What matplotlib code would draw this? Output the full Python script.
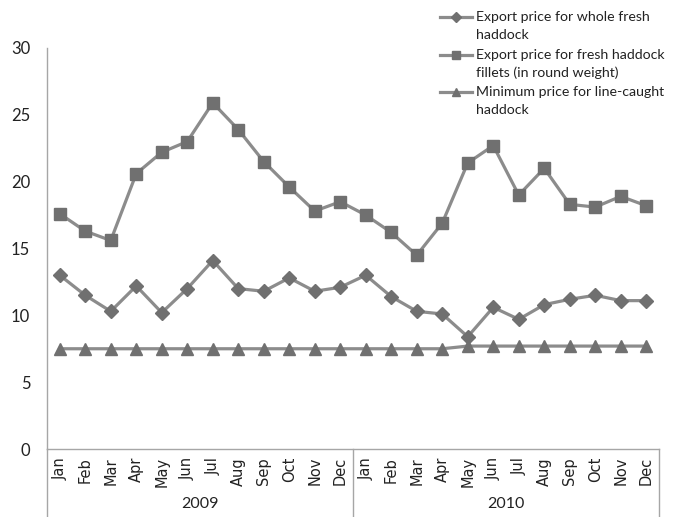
import matplotlib
matplotlib.use("Agg")
import matplotlib.pyplot as plt
import matplotlib.transforms as mtransforms
from matplotlib.lines import Line2D

months = ["Jan", "Feb", "Mar", "Apr", "May", "Jun", "Jul", "Aug", "Sep", "Oct", "Nov", "Dec"]
years = ["2009", "2010"]

whole_fresh = [13.0, 11.5, 10.3, 12.2, 10.2, 12.0, 14.1, 12.0, 11.8, 12.8, 11.8, 12.1,
               13.0, 11.4, 10.3, 10.1, 8.4, 10.6, 9.7, 10.8, 11.2, 11.5, 11.1, 11.1]
fillets = [17.6, 16.3, 15.6, 20.6, 22.2, 23.0, 25.9, 23.9, 21.5, 19.6, 17.8, 18.5,
           17.5, 16.2, 14.5, 16.9, 21.4, 22.7, 19.0, 21.0, 18.3, 18.1, 18.9, 18.2]
line_caught = [7.5, 7.5, 7.5, 7.5, 7.5, 7.5, 7.5, 7.5, 7.5, 7.5, 7.5, 7.5,
               7.5, 7.5, 7.5, 7.5, 7.7, 7.7, 7.7, 7.7, 7.7, 7.7, 7.7, 7.7]

labels = [["Export price for whole fresh", "haddock"],
          ["Export price for fresh haddock", "fillets (in round weight)"],
          ["Minimum price for line-caught", "haddock"]]

line_col = "#8c8c8c"
mark_col = "#707070"
axis_col = "#a6a6a6"
txt_font = ["Lato", "DejaVu Sans"]

W, H = 683, 517
fig = plt.figure(figsize=(W / 100, H / 100), dpi=100)
ax = fig.add_axes([47 / W, 1 - 449 / H, 612 / W, 401 / H])

x = list(range(len(whole_fresh)))
series = [(whole_fresh, "D", 7), (fillets, "s", 8), (line_caught, "^", 8.5)]
for vals, mk, ms in series:
    ax.plot(x, vals, color=line_col, lw=2.3, marker=mk, markersize=ms,
            markerfacecolor=mark_col, markeredgecolor=mark_col, zorder=3)

ax.set_xlim(-0.5, len(x) - 0.5)
ax.set_ylim(0, 30)
ax.set_yticks(range(0, 31, 5))
ax.set_yticklabels([str(v) for v in range(0, 31, 5)], fontsize=12,
                   family=txt_font, color="#222222")
ax.tick_params(axis="y", length=0, pad=12)
ax.set_xticks([])
for s in ["top", "right"]:
    ax.spines[s].set_visible(False)
for s in ["left", "bottom"]:
    ax.spines[s].set_color(axis_col)
    ax.spines[s].set_linewidth(1.0)

# month and year labels below the axis
trans = mtransforms.blended_transform_factory(ax.transData, fig.transFigure)
for i in x:
    ax.text(i, 1 - 457 / H, months[i % 12], transform=trans, rotation=90,
            ha="center", va="top", fontsize=10.5, color="#222222",
            family="DejaVu Sans")
for k, yr in enumerate(years):
    ax.text(k * 12 + 5.5, 1 - 504 / H, yr, transform=trans, ha="center",
            va="center", fontsize=11.5, family=txt_font, color="#222222")
for xv in [-0.5, 11.5, 23.5]:
    ax.plot([xv, xv], [1 - 449 / H, 0], transform=trans, color=axis_col,
            lw=1.0, clip_on=False)

# legend drawn by hand so the wrapped lines get the same spacing as the reference
row_y = [17, 55, 92]
for (vals, mk, ms), lab, ry in zip(series, labels, row_y):
    yy = 1 - ry / H
    fig.add_artist(Line2D([440 / W, 472 / W], [yy, yy], color=line_col, lw=2.3))
    fig.add_artist(Line2D([456 / W], [yy], marker=mk, markersize=ms * 0.75,
                          markerfacecolor=mark_col, markeredgecolor=mark_col,
                          linestyle="none"))
    for j, part in enumerate(lab):
        fig.text(476 / W, 1 - (ry + 18 * j) / H, part, ha="left", va="center",
                 fontsize=10.2, family=txt_font, color="#222222")

fig.savefig("out.png", dpi=100)
